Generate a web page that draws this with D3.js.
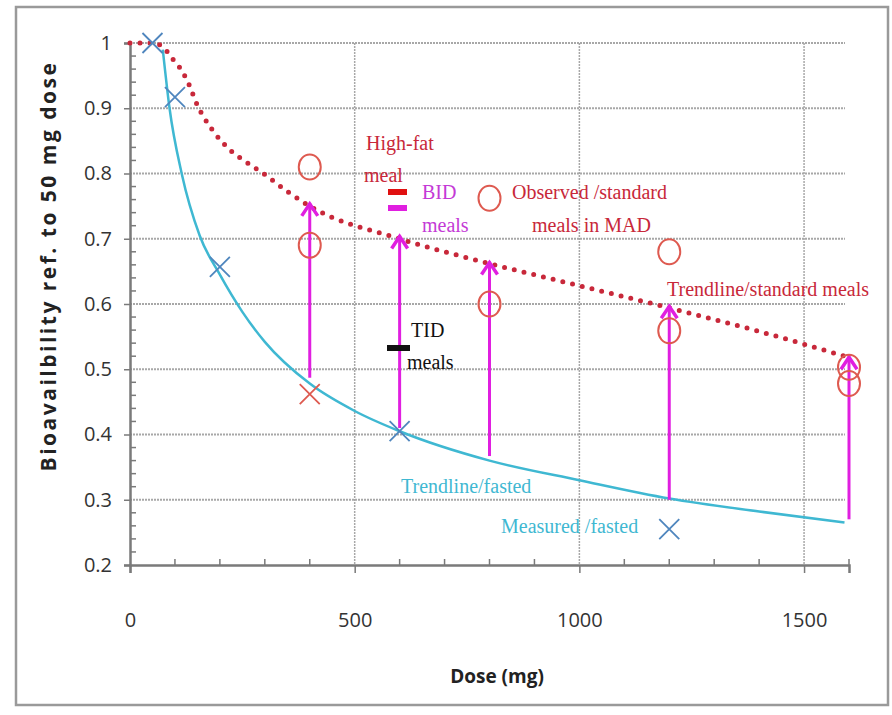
<!DOCTYPE html>
<html>
<head>
<meta charset="utf-8">
<script src="https://cdn.jsdelivr.net/npm/d3@7"></script>
<style>
  body { margin: 0; background: #fff; }
</style>
</head>
<body>
<script>
// values
const measuredFasted = [[50, 1.0], [100, 0.917], [200, 0.657], [600, 0.405], [1200, 0.255]]
const measuredFastedRed = [[400, 0.462]]
const trendFasted = [[73, 0.99], [88, 0.9], [115, 0.8], [155, 0.705], [200, 0.645], [250, 0.588],
  [300, 0.542], [400, 0.478], [500, 0.436], [600, 0.405], [800, 0.36], [1000, 0.33], [1200, 0.302],
  [1400, 0.282], [1590, 0.265]]
const trendStandard = [[0, 1.0], [50, 1.0], [73, 0.994], [93, 0.977], [111, 0.962], [127, 0.943],
  [151, 0.903], [182, 0.868], [218, 0.839], [262, 0.816], [305, 0.796], [349, 0.773],
  [400, 0.75], [600, 0.70], [800, 0.662], [1000, 0.628], [1200, 0.594], [1400, 0.558], [1590, 0.52]]
const observedStandard = [[400, 0.81], [400, 0.69], [800, 0.762], [800, 0.60],
  [1200, 0.68], [1200, 0.559], [1600, 0.503], [1600, 0.478]]
const arrowDose = [400, 600, 800, 1200, 1600]
const arrowFrom = [0.487, 0.41, 0.367, 0.30, 0.27]
const arrowTo = [0.755, 0.705, 0.665, 0.598, 0.52]
const xTicks = [0, 500, 1000, 1500]
const yTicks = [0.2, 0.3, 0.4, 0.5, 0.6, 0.7, 0.8, 0.9, 1]

width = 892
height = 715

const x = d3.scaleLinear().domain([0, 1600]).range([130, 849])
const y = d3.scaleLinear().domain([0.2, 1]).range([565, 43])

const red = "#c8283a", salmon = "#de5a50", cyan = "#3fb8d2", steel = "#4f86be", magenta = "#e01fe0"

const svg = d3.select("body").append("svg")
    .attr("width", width)
    .attr("height", height)

// outer frame
svg.append("rect")
    .attr("x", 16).attr("y", 7)
    .attr("width", 872).attr("height", 698)
    .attr("fill", "#fff")
    .attr("stroke", "#9a9a9a")
    .attr("stroke-width", 2.5)

// gridlines
svg.append("g")
    .selectAll("line")
    .data(yTicks.slice(1))
    .join("line")
    .attr("x1", x(0)).attr("x2", x(1600) - 4)
    .attr("y1", d => y(d)).attr("y2", d => y(d))
    .attr("stroke", "#a8a8a8")
    .attr("stroke-width", 2)
    .attr("stroke-dasharray", "2 1")

svg.append("g")
    .selectAll("line")
    .data(xTicks.slice(1))
    .join("line")
    .attr("x1", d => x(d)).attr("x2", d => x(d))
    .attr("y1", y(1)).attr("y2", y(0.2))
    .attr("stroke", "#a8a8a8")
    .attr("stroke-width", 1.5)
    .attr("stroke-dasharray", "2 1")

// axes
const xAxis = svg.append("g")
    .attr("transform", `translate(0,${y(0.2)})`)
    .call(d3.axisBottom(x).tickValues(xTicks).tickFormat(d3.format("d")).tickSize(8).tickPadding(40))
xAxis.select(".domain").attr("stroke", "#7a7a7a").attr("stroke-width", 2.5)
xAxis.selectAll(".tick line").attr("stroke", "#7a7a7a").attr("stroke-width", 1.5)
xAxis.selectAll("text")
    .attr("fill", "#333")
    .style("font", "20px 'Open Sans', sans-serif")

svg.append("g")
    .selectAll("line")
    .data(d3.range(100, 1601, 100).filter(d => d % 500 !== 0))
    .join("line")
    .attr("x1", d => x(d)).attr("x2", d => x(d))
    .attr("y1", y(0.2) - 6).attr("y2", y(0.2))
    .attr("stroke", "#7a7a7a")
    .attr("stroke-width", 1.5)

const yAxis = svg.append("g")
    .attr("transform", `translate(${x(0)},0)`)
    .call(d3.axisLeft(y).tickValues(yTicks).tickFormat(d3.format("")).tickSize(6).tickPadding(12))
yAxis.select(".domain").attr("stroke", "#7a7a7a").attr("stroke-width", 2.5)
yAxis.selectAll(".tick line").attr("stroke", "#7a7a7a").attr("stroke-width", 1.5)
yAxis.selectAll("text")
    .attr("fill", "#333")
    .style("font", "20px 'Open Sans', sans-serif")

svg.append("g")
    .selectAll("line")
    .data(d3.range(0.22, 1, 0.02).filter(d => Math.abs(d * 10 - Math.round(d * 10)) > 0.01))
    .join("line")
    .attr("x1", x(0)).attr("x2", x(0) + 6)
    .attr("y1", d => y(d)).attr("y2", d => y(d))
    .attr("stroke", "#7a7a7a")
    .attr("stroke-width", 1.5)

// axis titles
svg.append("text")
    .attr("x", 497).attr("y", 683)
    .attr("text-anchor", "middle")
    .attr("fill", "#222")
    .style("font", "bold 19px 'Open Sans', sans-serif")
    .text("Dose (mg)")

svg.append("text")
    .attr("transform", "translate(56,266) rotate(-90)")
    .attr("text-anchor", "middle")
    .attr("fill", "#222")
    .attr("letter-spacing", 2.5)
    .style("font", "bold 21px 'Open Sans', sans-serif")
    .text("Bioavailbility  ref. to 50 mg dose")

// trendlines
const line = d3.line().x(d => x(d[0])).y(d => y(d[1])).curve(d3.curveMonotoneX)

svg.append("path")
    .datum(trendFasted)
    .attr("d", line)
    .attr("fill", "none")
    .attr("stroke", cyan)
    .attr("stroke-width", 2.5)

svg.append("path")
    .datum(trendStandard)
    .attr("d", line)
    .attr("fill", "none")
    .attr("stroke", red)
    .attr("stroke-width", 5)
    .attr("stroke-linecap", "round")
    .attr("stroke-dasharray", "0 10")

// arrows fasted -> standard meals
const arrows = svg.append("g")
    .selectAll("g")
    .data(arrowDose.map((d, i) => [d, arrowFrom[i], arrowTo[i]]))
    .join("g")
    .attr("stroke", magenta)
    .attr("fill", "none")
    .attr("stroke-width", 3)

arrows.append("line")
    .attr("x1", d => x(d[0])).attr("x2", d => x(d[0]))
    .attr("y1", d => y(d[1])).attr("y2", d => y(d[2]))

arrows.append("path")
    .attr("d", d => `M${x(d[0]) - 8},${y(d[2]) + 13}L${x(d[0])},${y(d[2]) + 1}L${x(d[0]) + 8},${y(d[2]) + 13}`)
    .attr("stroke-width", 3.5)

// observed circles
svg.append("g")
    .selectAll("ellipse")
    .data(observedStandard)
    .join("ellipse")
    .attr("cx", d => x(d[0]))
    .attr("cy", d => y(d[1]))
    .attr("rx", 11)
    .attr("ry", 12.5)
    .attr("fill", "none")
    .attr("stroke", salmon)
    .attr("stroke-width", 2)

// measured X markers
const cross = (sel, color) => sel
    .attr("d", d => {
        const cx = x(d[0]), cy = y(d[1]), s = 10
        return `M${cx - s},${cy - s}L${cx + s},${cy + s}M${cx - s},${cy + s}L${cx + s},${cy - s}`
    })
    .attr("fill", "none")
    .attr("stroke", color)
    .attr("stroke-width", 1.8)

svg.append("g").selectAll("path").data(measuredFasted).join("path").call(cross, steel)
svg.append("g").selectAll("path").data(measuredFastedRed).join("path").call(cross, salmon)

// annotations
const serif = "'Liberation Serif', 'Times New Roman', serif"
const note = (tx, ty, str, color) => svg.append("text")
    .attr("x", tx).attr("y", ty)
    .attr("fill", color)
    .style("font", `20px ${serif}`)
    .text(str)

note(366, 150, "High-fat", red)
note(364, 182, "meal", red)
note(422, 199, "BID", "#c43ad6")
note(422, 232, "meals", "#c43ad6")
note(512, 199, "Observed /standard", red)
note(532, 232, "meals in MAD", red)
note(667, 296, "Trendline/standard meals", red)
note(411, 337, "TID", "#111")
note(407, 369, "meals", "#111")
note(401, 493, "Trendline/fasted", cyan)
note(501, 533, "Measured /fasted", cyan)

// small legend bars
const bars = [[388, 189, 19, "#e01010"], [388, 205, 19, magenta], [387, 345, 23, "#111"]]
svg.append("g")
    .selectAll("rect")
    .data(bars)
    .join("rect")
    .attr("x", d => d[0]).attr("y", d => d[1])
    .attr("width", d => d[2]).attr("height", 6)
    .attr("fill", d => d[3])
</script>
</body>
</html>
